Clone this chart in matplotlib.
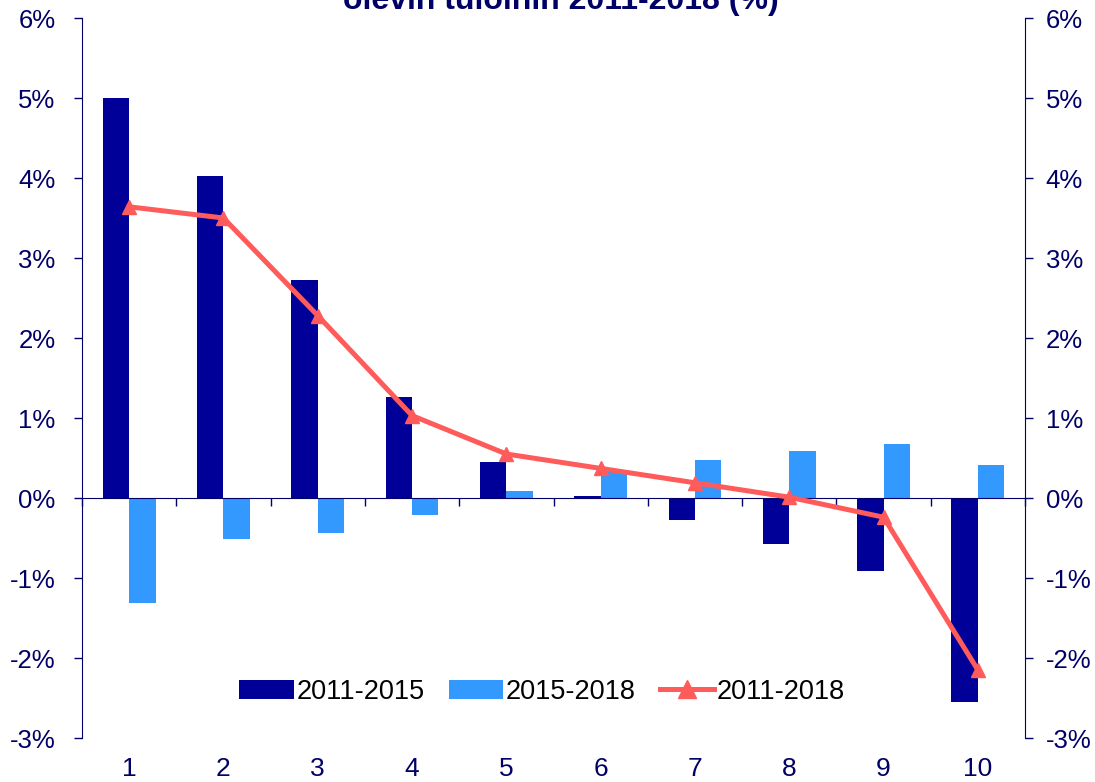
import numpy as np
import matplotlib
matplotlib.use("Agg")
import matplotlib.pyplot as plt
from matplotlib.ticker import FuncFormatter

plt.rcParams["font.family"] = ["Liberation Sans", "DejaVu Sans"]

# ── Data ──────────────────────────────────────────────────────────────────────
deciles    = ["1", "2", "3", "4", "5", "6", "7", "8", "9", "10"]
d2011_2015 = [5.00, 4.02, 2.72, 1.26, 0.45, 0.03, -0.28, -0.58, -0.91, -2.55]
d2015_2018 = [-1.31, -0.51, -0.44, -0.21, 0.09, 0.32, 0.47, 0.59, 0.67, 0.41]
d2011_2018 = [3.64, 3.50, 2.28, 1.03, 0.55, 0.37, 0.19, 0.01, -0.24, -2.15]
title_text = "olevin tuloihin 2011-2018 (%)"

NAVY  = "#000066"
DARK  = "#000099"
LIGHT = "#3399FF"
RED   = "#FF5B5B"

x = np.arange(1, len(deciles) + 1)
w = 0.28

fig = plt.figure(figsize=(10.95, 7.82), dpi=100)
ax  = fig.add_axes([82 / 1095, 1 - 738 / 782, (1025 - 82) / 1095, (738 - 18) / 782])

b1 = ax.bar(x - w / 2, d2011_2015, w, color=DARK, label="2011-2015", zorder=2)
b2 = ax.bar(x + w / 2, d2015_2018, w, color=LIGHT, label="2015-2018", zorder=2)
ln, = ax.plot(x, d2011_2018, color=RED, linewidth=3.6, marker="^", markersize=10,
              label="2011-2018", zorder=3)

ax.set_xlim(0.5, 10.5)
ax.set_ylim(-3, 6)
pct = FuncFormatter(lambda v, _: f"{v:.0f}%")
ax.set_yticks(np.arange(-3, 7, 1))
ax.yaxis.set_major_formatter(pct)
ax.tick_params(axis="y", colors=NAVY, labelsize=18.5, length=6, width=1, pad=13)

# horizontal axis crosses at zero, category labels stay at the bottom
ax.spines["bottom"].set_position(("data", 0))
ax.spines["bottom"].set_color(NAVY)
ax.spines["left"].set_color(NAVY)
ax.spines["top"].set_visible(False)
ax.spines["right"].set_visible(False)
ax.set_xticks(np.arange(0.5, 11, 1))
ax.set_xticklabels([])
ax.tick_params(axis="x", colors=NAVY, length=6, width=1, direction="out")

sec = ax.secondary_xaxis("bottom")
sec.set_xticks(x)
sec.set_xticklabels(deciles)
sec.spines["bottom"].set_visible(False)
sec.tick_params(length=0, labelsize=19, labelcolor=NAVY, pad=14)

ax2 = ax.twinx()
ax2.set_ylim(-3, 6)
ax2.set_yticks(np.arange(-3, 7, 1))
ax2.yaxis.set_major_formatter(pct)
ax2.tick_params(axis="y", colors=NAVY, labelsize=18.5, length=6, width=1, pad=9)
for s in ["top", "left", "bottom"]:
    ax2.spines[s].set_visible(False)
ax2.spines["right"].set_color(NAVY)

ax.legend([b1, b2, ln], ["2011-2015", "2015-2018", "2011-2018"],
          loc="center", bbox_to_anchor=(0.488, 0.064), ncol=3, frameon=False,
          fontsize=19.5, handlelength=2.0, handletextpad=0.1, columnspacing=0.9,
          markerscale=1.3)

fig.text(0.512, 1 - 9 / 782, title_text, ha="center", va="baseline",
         fontsize=23, fontweight="bold", color=NAVY)

fig.savefig("out.png", dpi=100)
